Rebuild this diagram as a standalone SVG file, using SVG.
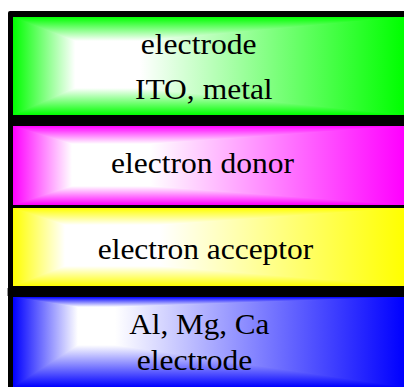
<svg xmlns="http://www.w3.org/2000/svg" width="404" height="387" viewBox="0 0 404 387">
<style>
text{font-family:"Liberation Serif","Times New Roman",serif;font-size:28.5px;fill:#000;text-anchor:middle}
</style>
<defs>
<linearGradient id="gH" gradientUnits="userSpaceOnUse" x1="13" y1="0" x2="404" y2="0"><stop offset="0" stop-color="#00ff00"/><stop offset="0.159" stop-color="#fff"/><stop offset="0.325" stop-color="#fff"/><stop offset="1" stop-color="#00ff00"/></linearGradient>
<linearGradient id="gT" gradientUnits="userSpaceOnUse" x1="0" y1="17" x2="0" y2="41"><stop offset="0" stop-color="#00ff00"/><stop offset="1" stop-color="#fff"/></linearGradient>
<linearGradient id="gB" gradientUnits="userSpaceOnUse" x1="0" y1="115" x2="0" y2="88"><stop offset="0" stop-color="#00ff00"/><stop offset="1" stop-color="#fff"/></linearGradient>
<linearGradient id="mH" gradientUnits="userSpaceOnUse" x1="13" y1="0" x2="404" y2="0"><stop offset="0" stop-color="#ff00ff"/><stop offset="0.151" stop-color="#fff"/><stop offset="0.350" stop-color="#fff"/><stop offset="1" stop-color="#ff00ff"/></linearGradient>
<linearGradient id="mT" gradientUnits="userSpaceOnUse" x1="0" y1="126" x2="0" y2="144"><stop offset="0" stop-color="#ff00ff"/><stop offset="1" stop-color="#fff"/></linearGradient>
<linearGradient id="mB" gradientUnits="userSpaceOnUse" x1="0" y1="205" x2="0" y2="186"><stop offset="0" stop-color="#ff00ff"/><stop offset="1" stop-color="#fff"/></linearGradient>
<linearGradient id="yH" gradientUnits="userSpaceOnUse" x1="13" y1="0" x2="404" y2="0"><stop offset="0" stop-color="#ffff00"/><stop offset="0.133" stop-color="#fff"/><stop offset="0.376" stop-color="#fff"/><stop offset="1" stop-color="#ffff00"/></linearGradient>
<linearGradient id="yT" gradientUnits="userSpaceOnUse" x1="0" y1="208" x2="0" y2="225"><stop offset="0" stop-color="#ffff00"/><stop offset="1" stop-color="#fff"/></linearGradient>
<linearGradient id="yB" gradientUnits="userSpaceOnUse" x1="0" y1="286" x2="0" y2="266"><stop offset="0" stop-color="#ffff00"/><stop offset="1" stop-color="#fff"/></linearGradient>
<linearGradient id="bH" gradientUnits="userSpaceOnUse" x1="13" y1="0" x2="404" y2="0"><stop offset="0" stop-color="#0000ff"/><stop offset="0.166" stop-color="#fff"/><stop offset="0.261" stop-color="#fff"/><stop offset="1" stop-color="#0000ff"/></linearGradient>
<linearGradient id="bT" gradientUnits="userSpaceOnUse" x1="0" y1="297" x2="0" y2="307"><stop offset="0" stop-color="#0000ff"/><stop offset="1" stop-color="#fff"/></linearGradient>
<linearGradient id="bB" gradientUnits="userSpaceOnUse" x1="0" y1="387" x2="0" y2="345"><stop offset="0" stop-color="#0000ff"/><stop offset="1" stop-color="#fff"/></linearGradient>
</defs>
<rect x="0" y="0" width="404" height="387" fill="#fff"/>
<rect x="8" y="11" width="400" height="380" rx="2" fill="#000"/>
<rect x="7" y="288" width="1" height="8" fill="#999"/>
<g id="electrode-top">
<rect x="13" y="17" width="391" height="98" fill="url(#gH)"/>
<polygon points="13,17 404,17 140,41 75,41" fill="url(#gT)"/>
<polygon points="13,115 404,115 140,88 75,88" fill="url(#gB)"/>
<text x="198.7" y="54" textLength="116" lengthAdjust="spacingAndGlyphs">electrode</text>
<text x="203.8" y="99" textLength="137.7" lengthAdjust="spacingAndGlyphs">ITO, metal</text>
</g>
<g id="electron-donor">
<rect x="13" y="126" width="391" height="79" fill="url(#mH)"/>
<polygon points="13,126 404,126 150,144 72,144" fill="url(#mT)"/>
<polygon points="13,205 404,205 150,186 72,186" fill="url(#mB)"/>
<text x="202.5" y="173.3" textLength="183" lengthAdjust="spacingAndGlyphs">electron donor</text>
</g>
<g id="electron-acceptor">
<rect x="13" y="208" width="391" height="78" fill="url(#yH)"/>
<polygon points="13,208 404,208 160,225 65,225" fill="url(#yT)"/>
<polygon points="13,286 404,286 160,266 65,266" fill="url(#yB)"/>
<text x="205.5" y="259.3" textLength="215.6" lengthAdjust="spacingAndGlyphs">electron acceptor</text>
</g>
<g id="electrode-bottom">
<rect x="13" y="297" width="391" height="90" fill="url(#bH)"/>
<polygon points="13,297 404,297 115,307 78,307" fill="url(#bT)"/>
<polygon points="13,387 404,387 115,345 78,345" fill="url(#bB)"/>
<text x="199.3" y="334" textLength="140" lengthAdjust="spacingAndGlyphs">Al, Mg, Ca</text>
<text x="194.5" y="370" textLength="115.6" lengthAdjust="spacingAndGlyphs">electrode</text>
</g>
</svg>
